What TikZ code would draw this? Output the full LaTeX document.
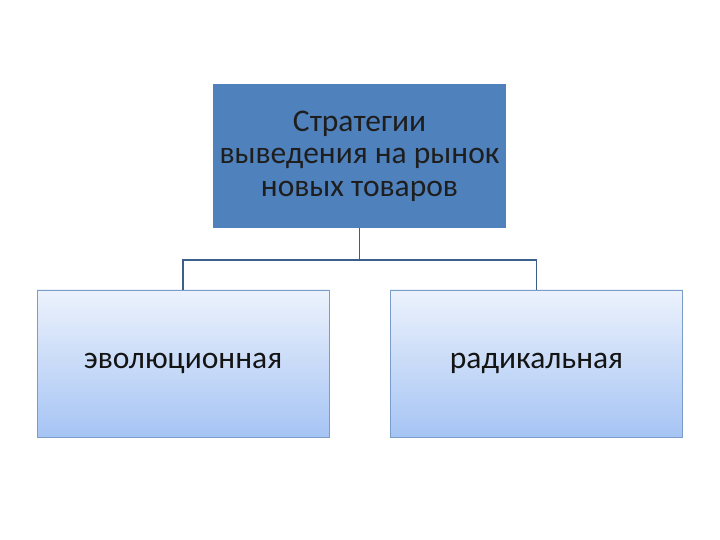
\documentclass[tikz,border=0pt]{standalone}
\usepackage{fontspec}
\setmainfont{Carlito}
\begin{document}
\begin{tikzpicture}[x=1pt,y=1pt,
 topbox/.style={draw=none,fill={rgb,255:red,79;green,129;blue,189},minimum width=293pt,minimum height=144pt,inner sep=0pt,align=center,font=\fontsize{31.5}{32.5}\selectfont,text={rgb,255:red,30;green,30;blue,30}},
 subbox/.style={draw={rgb,255:red,122;green,156;blue,200},top color={rgb,255:red,236;green,242;blue,252},bottom color={rgb,255:red,166;green,196;blue,244},minimum width=292pt,minimum height=147pt,inner sep=0pt,font=\fontsize{31.5}{32}\selectfont,text={rgb,255:red,20;green,20;blue,20}},
 conn/.style={draw={rgb,255:red,58;green,95;blue,138},line width=1.2pt}]
\useasboundingbox (0,0) rectangle (720,540);
\fill[white] (0,0) rectangle (720,540);
\node[topbox] (top) at (359.5,384) {Стратегии\\выведения на рынок\\новых товаров};
\node[subbox] (l) at (183,176.5) {эволюционная};
\node[subbox] (r) at (536.5,176.5) {радикальная};
\coordinate (j) at (359.5,280);
\draw[conn] (top.south) -- (j) -| (l.north);
\draw[conn] (j) -| (r.north);
\end{tikzpicture}
\end{document}
